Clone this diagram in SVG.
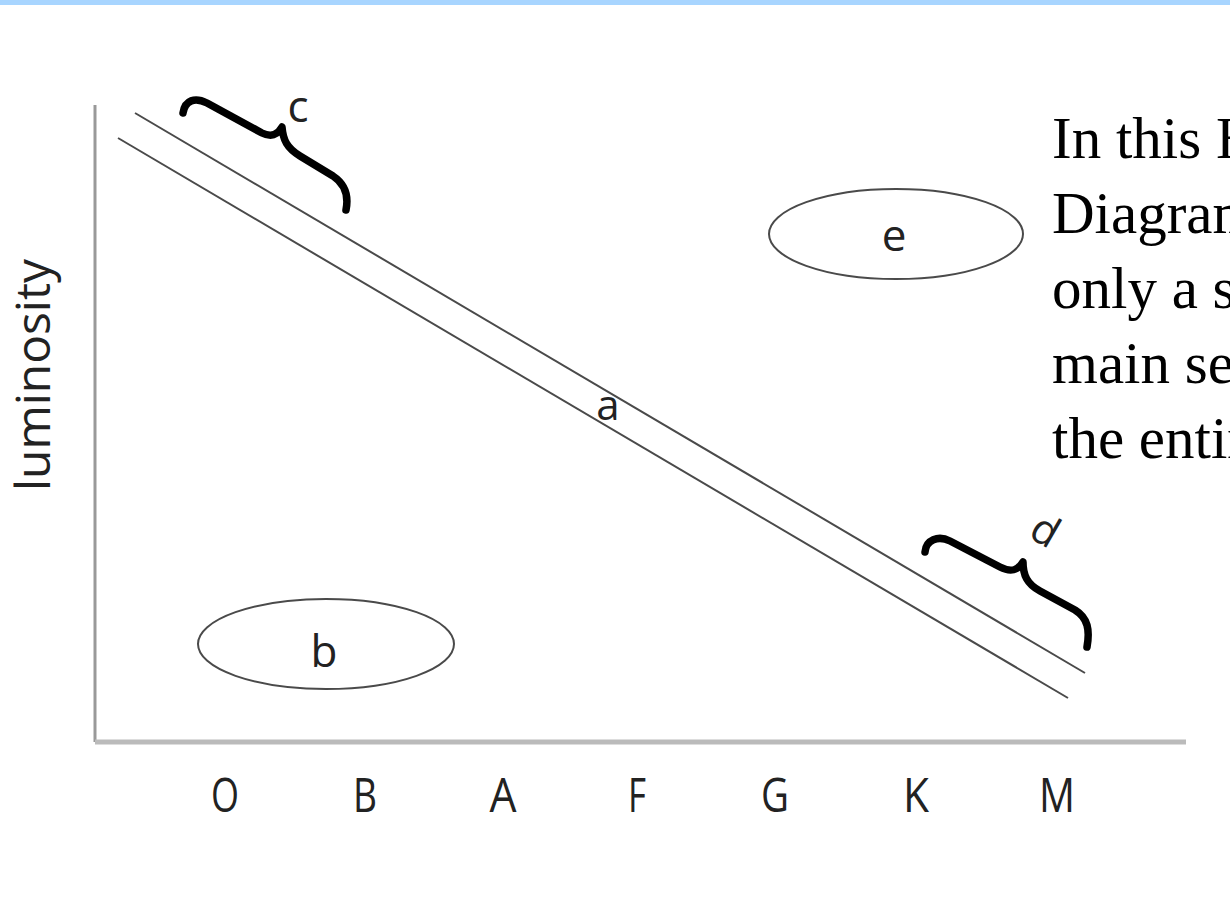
<svg xmlns="http://www.w3.org/2000/svg" width="1230" height="897" viewBox="0 0 1230 897">
<style>
.thin{fill:none;stroke:#4a4a4a;stroke-width:2}
.brace{fill:none;stroke:#000;stroke-width:7.5;stroke-linecap:round;stroke-linejoin:round}
.lbl{font-family:"Open Sans","DejaVu Sans",sans-serif;fill:#222}
.cls{font-family:"Open Sans","DejaVu Sans",sans-serif;fill:#222;font-size:48px}
.body{font-family:"Liberation Serif","Times New Roman",serif;font-size:59px;fill:#000}
</style>
<rect x="0" y="0" width="1230" height="5" fill="#a8d5ff"/>
<g id="axes">
<line x1="95" y1="105" x2="95" y2="742" stroke="#999" stroke-width="3"/>
<line x1="95" y1="742" x2="1186" y2="742" stroke="#bbb" stroke-width="5"/>
<text class="lbl" font-size="48" transform="translate(50,375) rotate(-90)" text-anchor="middle" textLength="232" lengthAdjust="spacingAndGlyphs">luminosity</text>
</g>
<g id="classes">
<text class="cls" x="225" y="812" text-anchor="middle" textLength="28" lengthAdjust="spacingAndGlyphs">O</text>
<text class="cls" x="365" y="812" text-anchor="middle" textLength="24" lengthAdjust="spacingAndGlyphs">B</text>
<text class="cls" x="503" y="812" text-anchor="middle" textLength="27" lengthAdjust="spacingAndGlyphs">A</text>
<text class="cls" x="637" y="812" text-anchor="middle" textLength="18" lengthAdjust="spacingAndGlyphs">F</text>
<text class="cls" x="775" y="812" text-anchor="middle" textLength="28" lengthAdjust="spacingAndGlyphs">G</text>
<text class="cls" x="916" y="812" text-anchor="middle" textLength="26" lengthAdjust="spacingAndGlyphs">K</text>
<text class="cls" x="1057" y="812" text-anchor="middle" textLength="36" lengthAdjust="spacingAndGlyphs">M</text>
</g>
<g id="connectors">
<line class="thin" x1="135" y1="113" x2="1085" y2="673"/>
<line class="thin" x1="118" y1="138" x2="1068" y2="698"/>
</g>
<g id="main-sequence">
<text class="lbl" x="608" y="420" font-size="42" text-anchor="middle" fill="#333">a</text>
</g>
<g id="node-b">
<ellipse class="thin" cx="326" cy="644" rx="128" ry="45"/>
<text class="lbl" x="324" y="667" font-size="44" text-anchor="middle">b</text>
</g>
<g id="node-e">
<ellipse class="thin" cx="896" cy="234" rx="127" ry="45"/>
<text class="lbl" x="894" y="251" font-size="44" text-anchor="middle">e</text>
</g>
<g id="brace-c">
<path class="brace" d="M183,113 C185,100 195,97 207,103 L262,133 C272,138 278,134 282,127 C283,140 287,148 300,156 L333,176 C345,184 349,195 346,210"/>
<text class="lbl" x="298" y="122" font-size="44" text-anchor="middle" fill="#888">c</text>
</g>
<g id="brace-d">
<path class="brace" d="M925,552 C926,540 938,535 950,541 L1000,567 C1012,573 1018,570 1023,562 C1023,575 1027,584 1040,591 L1075,610 C1088,618 1090,630 1087,647"/>
<text class="lbl" transform="translate(1038,543) rotate(30)" font-size="42" text-anchor="middle" fill="#777">d</text>
</g>
<g id="caption">
<text class="body" x="1052" y="158">In this H-R</text>
<text class="body" x="1052" y="233">Diagram</text>
<text class="body" x="1052" y="308">only a small</text>
<text class="body" x="1052" y="383">main sequence</text>
<text class="body" x="1052" y="458">the entire</text>
</g>
</svg>
